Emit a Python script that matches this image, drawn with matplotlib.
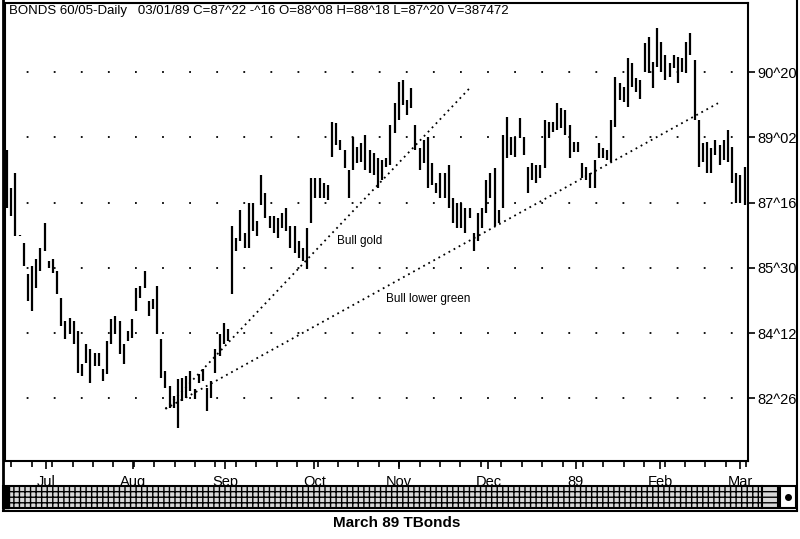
import numpy as np
import matplotlib
matplotlib.use("Agg")
import matplotlib.pyplot as plt
from matplotlib.patches import Rectangle
from matplotlib.lines import Line2D

highs = [88.75,87.86,88.20,86.73,86.54,85.80,85.99,86.16,86.40,87.00,86.11,86.16,85.87,85.22,84.67,84.74,84.67,84.43,
         83.64,84.12,84.00,83.90,83.90,83.52,84.19,84.72,84.79,84.67,84.12,84.43,84.72,85.46,85.51,85.87,85.15,85.20,85.51,84.24,
         83.47,83.11,82.87,83.28,83.30,83.35,83.47,83.04,83.40,83.52,83.06,83.23,84.00,84.36,84.62,84.48,86.95,86.66,87.31,86.76,
         87.48,87.48,87.07,88.15,87.74,87.19,87.19,87.12,87.26,87.36,86.95,86.95,86.59,86.40,86.88,88.08,88.10,88.08,87.96,87.91,
         89.42,89.40,88.99,88.75,88.27,89.06,88.82,88.92,89.11,88.75,88.68,88.56,88.51,88.56,89.35,89.88,90.38,90.43,89.95,90.24,
         89.35,88.80,88.99,89.06,88.44,87.96,88.20,88.22,88.39,87.62,87.48,87.48,87.38,87.36,86.78,87.24,87.38,88.03,88.20,88.32,
         87.31,89.11,89.54,89.06,89.06,89.52,89.06,88.34,88.44,88.39,88.39,89.47,89.42,89.42,89.88,89.76,89.71,89.35,88.94,88.94,88.44,
         88.34,88.20,88.51,88.92,88.80,88.75,89.47,90.50,90.36,90.26,90.96,90.84,90.48,90.43,91.32,91.46,90.86,91.68,91.34,91.03,
         90.84,91.03,90.98,90.96,91.34,91.56,90.91,89.47,88.92,88.94,88.80,88.99,88.87,88.99,89.23,88.82,88.20,88.15,88.34,88.03,88.63]
lows = [87.38,87.19,86.71,86.69,85.99,85.15,84.91,85.46,85.87,86.35,85.94,85.82,85.32,84.55,84.24,84.36,84.12,83.42,
        83.35,83.66,83.18,83.59,83.59,83.23,83.40,84.12,84.36,83.88,83.64,84.19,84.26,84.91,85.22,85.46,84.79,84.96,84.36,83.30,
        83.06,82.58,82.58,82.10,82.75,82.82,82.99,82.80,83.18,83.23,82.51,82.82,83.42,83.83,84.12,84.19,85.32,86.35,86.59,86.42,
        86.42,86.83,86.71,87.43,87.12,86.90,86.76,86.64,86.90,86.83,86.40,86.30,86.18,86.11,85.92,87.02,87.62,87.60,87.62,87.55,
        88.58,88.87,88.75,88.32,87.60,88.27,88.44,88.46,88.27,88.22,88.15,87.84,88.03,88.34,88.39,89.16,89.47,89.83,89.59,89.76,
        88.75,88.27,88.44,87.86,87.91,87.74,87.62,87.60,87.38,87.02,86.88,86.90,86.76,87.14,86.35,86.59,86.88,87.24,87.60,86.95,
        87.00,87.38,88.56,88.63,88.58,89.04,88.63,87.74,88.03,87.98,88.10,88.32,89.04,89.18,89.23,89.28,89.11,88.56,88.70,88.70,88.08,
        88.03,87.84,87.84,88.56,88.56,88.51,88.46,89.30,89.95,89.90,89.78,90.26,90.14,89.99,90.62,90.60,90.24,90.74,90.62,90.43,
        90.50,90.72,90.36,90.62,90.60,91.03,89.47,88.34,88.46,88.20,88.22,88.63,88.39,88.51,88.46,87.96,87.50,87.48,87.43,87.72,87.67]

price_ticks = [82.8125, 84.375, 85.9375, 87.5, 89.0625, 90.625]
price_labels = ["82^26", "84^12", "85^30", "87^16", "89^02", "90^20"]
month_pos = [9.3, 30.3, 52.3, 73.7, 94.0, 115.5, 136.5, 156.8, 175.9]
month_labels = ["Jul", "Aug", "Sep", "Oct", "Nov", "Dec", "89", "Feb", "Mar"]
gold_line = ([38.0, 111.0], [82.56, 90.24])
green_line = ([38.0, 170.6], [82.56, 89.88])

NARROW = ["Liberation Sans Narrow", "Liberation Sans", "DejaVu Sans"]

fig = plt.figure(figsize=(8, 5.39), dpi=100)
ax = fig.add_axes([5/800, 1-461/539, 743/800, 458/539])
n = len(highs)
x = np.arange(n)
ax.vlines(x, lows, highs, color="black", lw=1.6)
ax.plot(*gold_line, color="black", lw=1.3, ls=(0, (1, 2.2)))
ax.plot(*green_line, color="black", lw=1.3, ls=(0, (1, 2.2)))
ax.text(84.5, 86.59, "Bull gold", fontsize=8.5, family=NARROW, ha="center", va="center")
ax.text(101, 85.20, "Bull lower green", fontsize=8.5, family=NARROW, ha="center", va="center")

ax.set_xlim(-0.5, 177.8)
ax.set_ylim(81.31, 92.28)
for p in price_ticks:
    ax.axhline(p, color="black", lw=1.3, ls=(3, (1, 14)))
ax.yaxis.tick_right()
ax.set_yticks(price_ticks)
ax.set_yticklabels(price_labels, family=NARROW, fontsize=10.5)
ax.tick_params(axis="y", length=5, width=1.2, pad=2)
ax.set_xticks(month_pos)
ax.set_xticklabels(month_labels, family=NARROW, fontsize=10.5)
ax.set_xticks(np.arange(1, 178, 4.9), minor=True)
ax.tick_params(axis="x", which="major", length=6, width=1.2, pad=4)
ax.tick_params(axis="x", which="minor", length=4, width=1.2)
for s in ax.spines.values():
    s.set_linewidth(1.5)
ax.text(0.006, 0.996, "BONDS 60/05-Daily   03/01/89 C=87^22 -^16 O=88^08 H=88^18 L=87^20 V=387472",
        transform=ax.transAxes, fontsize=9.5, family=NARROW, va="top", ha="left")

def fr(x0, y0, x1, y1, **kw):
    fig.patches.append(Rectangle((x0/800, 1-y1/539), (x1-x0)/800, (y1-y0)/539,
                                 transform=fig.transFigure, figure=fig, **kw))
fr(3, 486, 762, 508, facecolor="#d8d8d8", edgecolor="black", lw=1.5, hatch="+++")
fr(762, 486, 778, 508, facecolor="#d8d8d8", edgecolor="black", lw=1.5, hatch="---")
fr(780, 486, 796, 508, facecolor="white", edgecolor="black", lw=1.5)
fr(3, 486, 9, 508, facecolor="black", edgecolor="black", lw=1)
fig.lines.append(Line2D([788/800], [1-497/539], marker="o", ms=4, color="black", transform=fig.transFigure))
fig.lines.append(Line2D([3/800, 3/800], [1-0/539, 1-510/539], color="black", lw=2, transform=fig.transFigure))
fig.lines.append(Line2D([797/800, 797/800], [1-0/539, 1-510/539], color="black", lw=1.5, transform=fig.transFigure))
fig.lines.append(Line2D([3/800, 797/800], [1-511/539, 1-511/539], color="black", lw=1.5, transform=fig.transFigure))
fig.text(397/800, 1-523/539, "March 89 TBonds", ha="center", va="center", fontsize=11,
         fontweight="bold", family=["Liberation Sans", "DejaVu Sans"])
fig.savefig("out.png", dpi=100)
